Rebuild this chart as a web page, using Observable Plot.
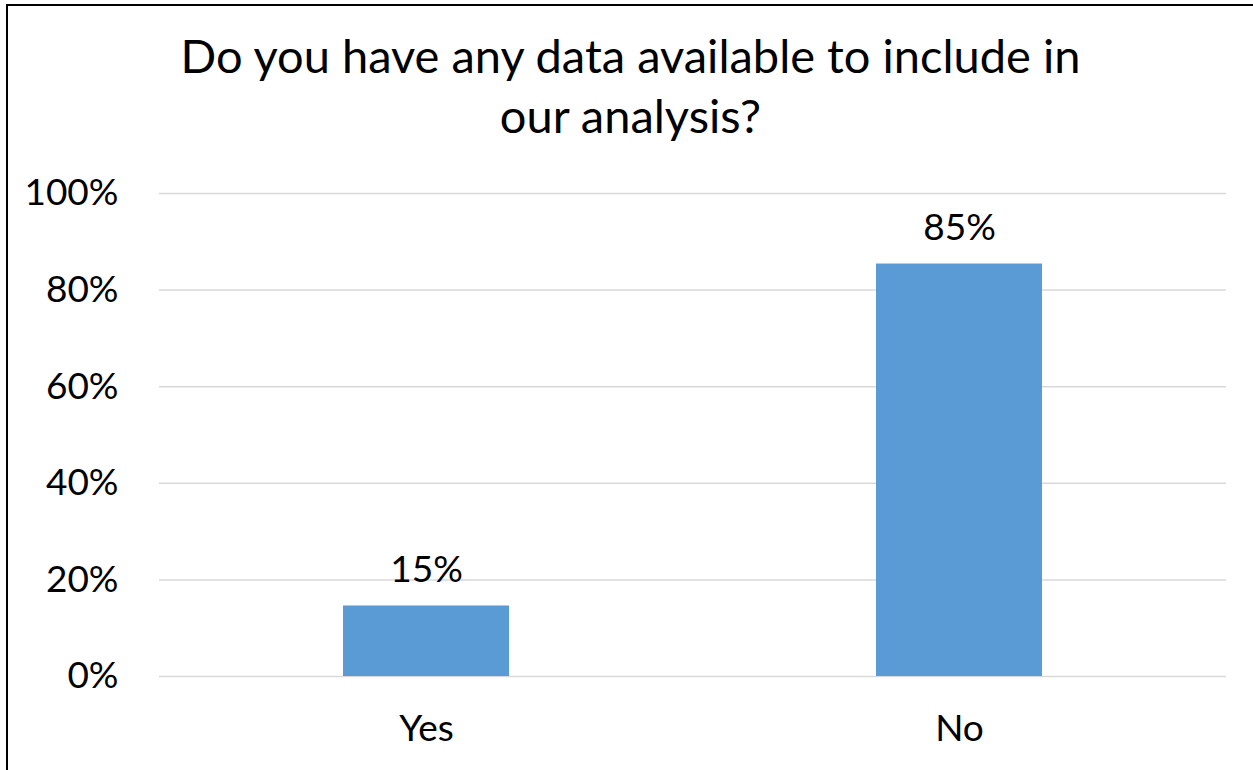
<!DOCTYPE html>
<html>
<head>
<meta charset="utf-8">
<script src="https://cdn.jsdelivr.net/npm/d3@7"></script>
<script src="https://cdn.jsdelivr.net/npm/@observablehq/plot@0.6"></script>
<style>
  html, body { margin: 0; padding: 0; background: #fff; }
  body { width: 1253px; height: 770px; overflow: hidden; position: relative; font-family: Lato, "Open Sans", sans-serif; }
  #frame { position: absolute; left: 6px; top: 4px; width: 1400px; height: 900px; border-left: 2px solid #000; border-top: 2px solid #000; box-sizing: border-box; }
  #title { position: relative; height: 160px; box-sizing: border-box; padding-top: 25px; padding-left: 8px; text-align: center; font-size: 47px; line-height: 60px; color: #000; }
  #chart { position: relative; }
</style>
</head>
<body>
<div id="frame"></div>
<div id="title">Do you have any data available to include in<br>our analysis?</div>
<div id="chart"></div>
<script>
const categories = ["Yes", "No"];
const values = [14.6, 85.4];
const yTicks = [0, 20, 40, 60, 80, 100];

const data = categories.map((c, i) => ({category: c, value: values[i]}));

const chart = Plot.plot({
  width: 1253,
  height: 610,
  marginLeft: 159,
  marginRight: 27,
  marginTop: 33,
  marginBottom: 94,
  style: {fontFamily: "Lato, 'Open Sans', sans-serif", fontSize: "37px", color: "#000", background: "transparent", overflow: "visible"},
  x: {domain: categories, paddingInner: 0.689, paddingOuter: 0.344, label: null},
  y: {domain: [0, 100], label: null},
  marks: [
    Plot.gridY(yTicks, {stroke: "#d9d9d9", strokeOpacity: 1, strokeWidth: 1.5}),
    Plot.barY(data, {x: "category", y: "value", fill: "#5B9BD5"}),
    Plot.text(data, {x: "category", y: "value", text: d => Math.round(d.value) + "%", dy: -24, lineAnchor: "bottom", fontSize: 37, fill: "#000"}),
    Plot.axisY(yTicks, {tickSize: 0, tickPadding: 41, tickFormat: d => d + "%", fontSize: 37, label: null}),
    Plot.axisX({tickSize: 0, tickPadding: 38, fontSize: 37, label: null})
  ]
});
document.getElementById("chart").appendChild(chart);
</script>
</body>
</html>
